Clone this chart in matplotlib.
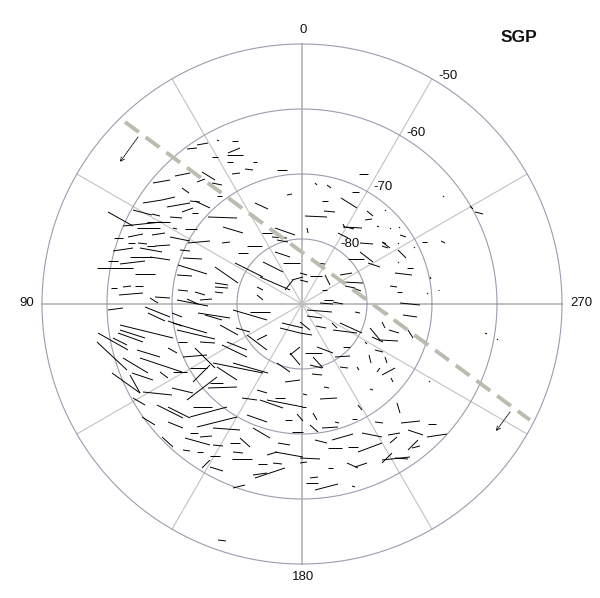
# SGP polar map, latitude circles and short black vectors
# vectors are x0, y0, x1, y1 in map units from the pole (6.5 units = 1 deg latitude)

import matplotlib
matplotlib.use("Agg")
import matplotlib.pyplot as plt
import numpy as np
from matplotlib.collections import LineCollection

plt.rcParams["font.family"] = ["Liberation Sans", "DejaVu Sans"]

lat_circles = [-80, -70, -60, -50]
lat_labels = ["-80", "-70", "-60", "-50"]
lat_label_x = [48, 81, 114, 146]
lat_label_y = [60, 117, 171, 228]
lon_spokes = [0, 30, 60, 90, 120, 150, 180, 210, 240, 270, 300, 330]
lon_labels = ["0", "90", "180", "270"]
lon_label_x = [1, -275, 1, 279]
lon_label_y = [274, 1, -273, 1]

ridge_x = [-177, 228]
ridge_y = [182, -116]
arrow_nw = (-164, 167, -182, 142)
arrow_se = (208, -108, 194, -127)

nw_vectors = [
    (-205,36,-169,36), (-182,40,-157,43), (-194,43,-184,43), (-172,47,-150,47), (-189,53,-169,56),
    (-174,61,-167,61), (-164,61,-155,60), (-155,58,-147,58), (-147,58,-132,59), (-188,66,-179,66),
    (-174,67,-159,70), (-150,69,-137,71), (-179,78,-140,82), (-165,76,-142,76), (-155,82,-132,82),
    (-194,92,-169,78), (-169,94,-150,89), (-150,90,-142,88), (-159,101,-140,104), (-140,104,-127,107),
    (-149,121,-132,124), (-127,128,-112,131), (-105,122,-97,125), (-120,116,-113,111), (-135,97,-112,101),
    (-120,92,-109,96), (-112,103,-102,102), (-107,103,-92,96), (-132,87,-120,86), (-110,91,-104,91),
    (-94,87,-65,86), (-79,77,-59,71), (-129,76,-125,75), (-117,75,-105,75), (-132,67,-112,63),
    (-114,61,-92,63), (-80,61,-72,62), (-162,56,-140,52), (-152,47,-132,44), (-122,54,-112,53),
    (-119,46,-100,45), (-124,39,-95,30), (-125,29,-110,28), (-87,37,-64,21), (-64,51,-54,51),
    (-55,58,-40,58), (-67,41,-39,27), (-42,27,-12,14), (-39,42,-19,32), (-19,41,-2,41),
    (-27,52,-12,47), (-40,71,-30,71), (-30,67,-15,66), (-27,76,-7,69), (-25,64,-14,62),
    (-52,90,-49,90), (-47,101,-34,95), (-70,130,-62,131), (-57,135,-49,134), (-25,134,-15,134),
    (-49,142,-45,142), (-75,142,-69,142), (-75,149,-59,149), (-74,151,-62,156), (-70,163,-64,163),
    (-85,164,-83,163), (-115,155,-105,156), (-105,159,-94,161), (-90,147,-84,147), (-100,132,-87,124),
    (-90,121,-80,119), (-85,108,-80,108), (-15,109,-10,110), (-152,6,-144,1), (-147,7,-132,6),
    (-124,14,-114,13), (-107,12,-97,9), (-115,5,-104,0), (-102,4,-90,5), (-87,21,-74,19),
    (-87,17,-74,16), (-87,12,-79,11), (-45,17,-39,14), (-45,9,-39,4), (-10,24,1,27),
    (-17,14,-9,24), (-183,9,-159,11), (-179,17,-171,18), (-167,18,-159,18), (-191,16,-185,16),
    (-167,30,-147,30),
]

ne_vectors = [
    (57,130,66,130), (50,112,57,112), (20,103,26,103), (39,106,55,96), (3,88,25,87),
    (22,93,33,92), (65,93,71,88), (63,84,70,85), (41,77,60,76), (36,71,46,66),
    (58,61,71,60), (80,62,88,56), (98,69,104,67), (96,54,104,46), (120,62,125,62),
    (139,63,143,61), (173,92,181,90), (58,52,71,42), (46,45,62,45), (66,41,78,37),
    (105,36,111,36), (93,31,110,29), (14,41,23,40), (8,28,20,28), (-2,31,5,29),
    (-2,24,6,22), (23,29,28,19), (38,29,50,31), (40,22,61,21), (43,18,53,16),
    (20,14,25,14), (22,4,31,4), (31,2,41,0), (88,18,95,17), (95,12,100,12),
    (13,121,15,119), (25,119,29,116), (88,76,89,75), (97,77,98,76), (83,94,84,93),
    (75,78,77,77), (41,80,43,76), (96,61,97,60), (128,27,129,25), (112,57,113,56),
    (136,14,137,14), (125,11,126,10), (96,42,97,41), (5,76,6,71), (80,58,86,56),
    (81,62,84,60), (168,98,171,95), (141,108,142,107), (44,77,52,75), (51,16,59,13),
]

sw_vectors = [
    (-194,-6,-179,-4), (-157,-3,-132,-13), (-154,-9,-137,-17), (-130,-9,-120,-13), (-125,4,-94,-2),
    (-104,-9,-72,-14), (-97,-11,-80,-16), (-69,-6,-35,-16), (-52,-8,-32,-8), (-20,-19,1,-24),
    (-182,-21,-129,-34), (-182,-26,-157,-34), (-184,-29,-159,-38), (-129,-19,-95,-29), (-125,-26,-87,-35),
    (-124,-38,-115,-38), (-102,-38,-87,-39), (-82,-21,-64,-31), (-80,-41,-55,-53), (-75,-38,-55,-46),
    (-55,-31,-35,-46), (-45,-36,-35,-31), (-204,-29,-174,-46), (-205,-38,-175,-66), (-189,-34,-175,-41),
    (-165,-46,-142,-53), (-162,-54,-120,-68), (-134,-44,-125,-49), (-179,-54,-154,-69), (-170,-69,-149,-76),
    (-190,-69,-162,-89), (-172,-71,-162,-89), (-119,-53,-95,-51), (-107,-44,-87,-64), (-142,-68,-134,-74),
    (-129,-68,-115,-68), (-112,-64,-95,-64), (-109,-78,-92,-61), (-115,-96,-85,-73), (-89,-59,-39,-69),
    (-69,-59,-34,-69), (-85,-63,-65,-76), (-92,-79,-79,-79), (-94,-84,-65,-83), (-130,-84,-109,-89),
    (-159,-88,-130,-91), (-169,-94,-157,-101), (-145,-101,-119,-114), (-134,-103,-112,-114), (-112,-113,-75,-103),
    (-109,-103,-90,-103), (-160,-113,-147,-121), (-134,-118,-119,-124), (-105,-123,-65,-113), (-112,-129,-104,-129),
    (-89,-124,-62,-126), (-117,-134,-92,-141), (-102,-133,-90,-132), (-89,-141,-79,-142), (-140,-133,-129,-143),
    (-119,-146,-112,-147), (-105,-148,-99,-148), (-92,-152,-82,-152), (-70,-155,-50,-155), (-69,-148,-59,-149),
    (-72,-139,-62,-139), (-62,-134,-52,-143), (-49,-124,-32,-134), (-55,-111,-35,-118), (-60,-94,-45,-96),
    (-45,-86,-35,-89), (-42,-96,-19,-104), (-35,-96,1,-103), (-27,-94,-17,-94), (-17,-78,-2,-76),
    (-17,-116,-10,-116), (-10,-128,1,-128), (-24,-139,-12,-141), (-35,-151,-25,-148), (-27,-148,1,-153),
    (-44,-160,-35,-160), (-29,-159,-20,-160), (-49,-171,-35,-169), (-47,-174,-17,-164), (-92,-163,-79,-167),
    (-69,-184,-57,-181), (-100,-164,-92,-156), (-22,-24,-2,-29), (-12,-51,-2,-43), (-12,-49,-2,-61),
    (-25,-59,-12,-68), (-84,-236,-76,-237), (-134,-17,-120,-22), (-66,-24,-52,-28), (-5,-110,1,-117),
]

se_vectors = [
    (3,-49,20,-49), (15,-43,31,-49), (38,-19,60,-29), (30,-19,35,-24), (31,-26,55,-29),
    (53,-8,58,-9), (68,-24,78,-36), (78,-36,96,-37), (87,-26,97,-29), (80,-18,83,-24),
    (106,-26,111,-34), (70,-33,81,-38), (83,-8,86,-10), (98,1,118,-1), (101,-11,115,-13),
    (183,-29,185,-30), (195,-35,196,-36), (127,-77,128,-78), (63,-38,65,-40), (41,-43,48,-43),
    (33,-53,48,-52), (67,-51,69,-59), (83,-53,85,-59), (73,-46,81,-48), (55,-63,57,-66),
    (38,-63,46,-64), (75,-68,78,-64), (80,-71,93,-64), (89,-74,91,-78), (68,-85,71,-86),
    (95,-99,98,-109), (11,-53,21,-64), (8,-61,20,-64), (10,-70,20,-71), (22,-83,27,-84),
    (18,-95,35,-94), (1,-90,5,-91), (0,-103,4,-103), (11,-109,15,-116), (8,-121,16,-128),
    (20,-124,36,-123), (33,-118,37,-119), (50,-115,55,-115), (56,-101,60,-106), (73,-118,81,-119),
    (99,-119,118,-117), (126,-120,134,-120), (106,-126,121,-131), (125,-133,145,-130), (60,-129,80,-133),
    (30,-136,51,-130), (13,-136,25,-139), (26,-144,40,-144), (46,-143,56,-143), (56,-148,80,-139),
    (86,-131,98,-129), (88,-139,95,-133), (106,-146,116,-136), (110,-144,118,-142), (80,-159,90,-149),
    (80,-156,108,-153), (93,-154,106,-155), (45,-159,56,-164), (53,-163,65,-159), (-2,-154,18,-155),
    (-2,-159,5,-158), (26,-164,31,-164), (4,-179,16,-179), (8,-174,16,-173), (13,-186,36,-180),
    (50,-182,53,-183), (5,-6,30,-8), (18,1,31,0), (-2,-18,8,-26), (-2,-29,10,-31),
    (14,-22,24,-24), (5,-12,20,-14),
]

PX_PER_DEG = 6.5

fig = plt.figure(figsize=(6.0, 5.98), dpi=100)
ax = fig.add_axes([0, 0, 1, 1])
ax.set_xlim(-302, 298)
ax.set_ylim(-294, 304)
ax.axis("off")

outer = (90 + lat_circles[-1]) * PX_PER_DEG

# spokes
for lon in lon_spokes:
    t = np.radians(lon)
    main = lon % 90 == 0
    ax.plot([0, -outer * np.sin(t)], [0, outer * np.cos(t)],
            color="#b4b4b4" if main else "#c2c2c2", lw=1.2 if main else 0.8, zorder=1)

# latitude circles
angle = np.linspace(0, 2 * np.pi, 400)
for lat in lat_circles:
    r = (90 + lat) * PX_PER_DEG
    ax.plot(r * np.cos(angle), r * np.sin(angle), color="#9c9cae", lw=0.8, zorder=2)

for vectors in (nw_vectors, ne_vectors, sw_vectors, se_vectors):
    segs = [[(v[0], v[1]), (v[2], v[3])] for v in vectors]
    ax.add_collection(LineCollection(segs, colors="black", linewidths=0.7, zorder=3))

ax.plot(ridge_x, ridge_y, color="#bbbbb0", lw=2.8, dashes=(4.4, 2.2), zorder=4)

for a in (arrow_nw, arrow_se):
    ax.annotate("", xy=(a[2], a[3]), xytext=(a[0], a[1]),
                arrowprops=dict(arrowstyle="->", color="black", lw=0.6, linestyle=(0, (2, 1)),
                                mutation_scale=7, shrinkA=0, shrinkB=0), zorder=5)

for x, y, s in zip(lat_label_x, lat_label_y, lat_labels):
    ax.text(x, y, s, ha="center", va="center", fontsize=9.5, color="#111111", zorder=6)
for x, y, s in zip(lon_label_x, lon_label_y, lon_labels):
    ax.text(x, y, s, ha="center", va="center", fontsize=9.5, color="#111111", zorder=6)

ax.text(217, 266, "SGP", ha="center", va="center", fontsize=12.5, fontweight="bold", color="#111111")

fig.savefig("out.png", dpi=100)
